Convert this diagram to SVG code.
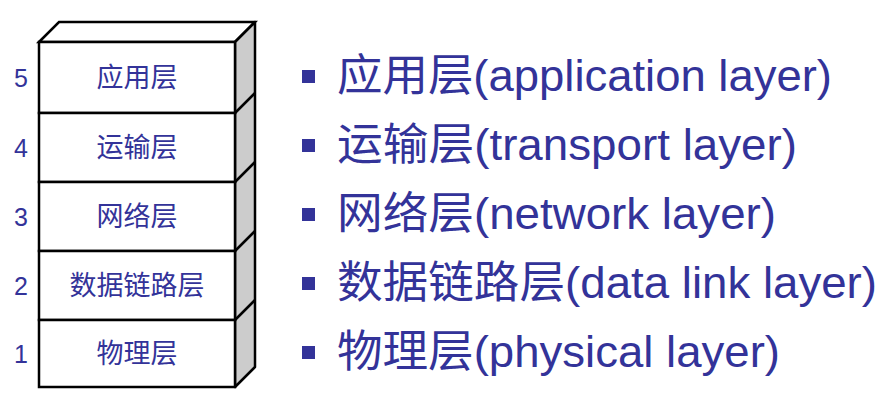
<svg xmlns="http://www.w3.org/2000/svg" width="895" height="405" viewBox="0 0 895 405">
<style>
.f{fill:#fff;stroke:#000;stroke-width:2.5}
.s{fill:#cccccc;stroke:#000;stroke-width:2.5;stroke-linejoin:round}
.t{font-family:"Liberation Sans","Noto Sans CJK SC",sans-serif;fill:#333399}
.l{font-size:27px;text-anchor:middle}
.n{font-size:25px;text-anchor:middle}
.b{font-size:44px}
.q{fill:#333399}
</style>
<rect width="895" height="405" fill="#fff"/>
<g id="stack">
<polygon class="f" points="39,42 59,22 255,22 235,42"/>
<polygon class="s" points="235,42 255,22 255,367 235,387"/>
<line x1="235" y1="113" x2="255" y2="93" stroke="#000" stroke-width="2.5"/>
<line x1="235" y1="182" x2="255" y2="162" stroke="#000" stroke-width="2.5"/>
<line x1="235" y1="251" x2="255" y2="231" stroke="#000" stroke-width="2.5"/>
<line x1="235" y1="320" x2="255" y2="300" stroke="#000" stroke-width="2.5"/>
</g>
<g id="layer5"><rect class="f" x="39" y="42" width="196" height="71"/><text class="t l" x="137" y="87">应用层</text><text class="t n" x="21" y="87">5</text></g>
<g id="layer4"><rect class="f" x="39" y="113" width="196" height="69"/><text class="t l" x="137" y="157">运输层</text><text class="t n" x="21" y="157">4</text></g>
<g id="layer3"><rect class="f" x="39" y="182" width="196" height="69"/><text class="t l" x="137" y="226">网络层</text><text class="t n" x="21" y="226">3</text></g>
<g id="layer2"><rect class="f" x="39" y="251" width="196" height="69"/><text class="t l" x="137" y="295">数据链路层</text><text class="t n" x="21" y="295">2</text></g>
<g id="layer1"><rect class="f" x="39" y="320" width="196" height="67"/><text class="t l" x="137" y="363">物理层</text><text class="t n" x="21" y="363">1</text></g>
<g id="list">
<rect class="q" x="302" y="70" width="13" height="13"/><text class="t b" x="337" y="91" textLength="495" lengthAdjust="spacingAndGlyphs">应用层(application layer)</text>
<rect class="q" x="302" y="139" width="13" height="13"/><text class="t b" x="337" y="160" textLength="460" lengthAdjust="spacingAndGlyphs">运输层(transport layer)</text>
<rect class="q" x="302" y="208" width="13" height="13"/><text class="t b" x="337" y="229" textLength="439" lengthAdjust="spacingAndGlyphs">网络层(network layer)</text>
<rect class="q" x="302" y="277" width="13" height="13"/><text class="t b" x="337" y="298" textLength="540" lengthAdjust="spacingAndGlyphs">数据链路层(data link layer)</text>
<rect class="q" x="302" y="346" width="13" height="13"/><text class="t b" x="337" y="367" textLength="443" lengthAdjust="spacingAndGlyphs">物理层(physical layer)</text>
</g>
</svg>
